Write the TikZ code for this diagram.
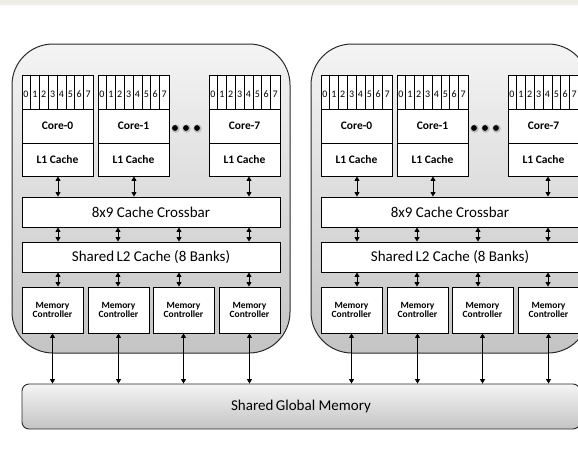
\documentclass[tikz,border=0pt]{standalone}
\usepackage{fontspec}
\setmainfont{Carlito}
\usetikzlibrary{arrows.meta,calc}
\definecolor{bandc}{HTML}{EEEDE6}
\definecolor{chiptop}{HTML}{F4F4F4}
\definecolor{chipbot}{HTML}{C4C4C4}
\definecolor{edgec}{HTML}{2A2A2A}
\tikzset{
  chipbox/.style={draw=edgec, line width=1pt, rounded corners=41pt, top color=chiptop, bottom color=chipbot, inner sep=0pt},
  wbox/.style={draw=black, line width=0.9pt, fill=white, inner sep=0pt, align=center},
  arr/.style={line width=0.8pt, {Triangle[width=5pt,length=4.5pt]}-{Triangle[width=5pt,length=4.5pt]}},
  cellt/.style={font=\fontsize{10}{11}\selectfont, inner sep=0pt},
  bigt/.style={font=\fontsize{15}{17}\selectfont},
  coret/.style={font=\fontsize{11.5}{13}\selectfont\bfseries},
  mct/.style={font=\fontsize{9.5}{11}\selectfont\bfseries}
}
\begin{document}
\begin{tikzpicture}[x=1pt,y=-1pt]
\useasboundingbox (0,0) rectangle (578,455);
\clip (0,0) rectangle (578,455);
\fill[white] (0,0) rectangle (578,455);
\fill[bandc] (0,0) rectangle (578,4.5);
% global memory
\node[draw=edgec, line width=0.9pt, rounded corners=7pt, top color=chiptop, bottom color=chipbot,
      minimum width=558pt, minimum height=45pt, inner sep=0pt, font=\fontsize{15}{17}\selectfont]
      (glob) at (301,406.5) {Shared\,Global Memory};
\foreach \p/\dx in {a/0,b/299} {
\begin{scope}[xshift=\dx pt]
  \node[chipbox, minimum width=278pt, minimum height=309pt] (\p-chip) at (151,198.5) {};
  % cores
  \foreach \i/\cx/\lab in {0/57.5/Core-0, 1/133.5/Core-1, 7/244.5/Core-7} {
    \node[wbox, minimum width=71pt, minimum height=34pt] (\p-reg\i) at (\cx,92) {};
    \foreach \k in {1,...,7} {
      \draw[line width=0.7pt] ($(\p-reg\i.north west)+(\k*8.875,0)$) -- ($(\p-reg\i.south west)+(\k*8.875,0)$);
    }
    \foreach \k in {0,...,7} {
      \node[cellt] (\p-d\i\k) at ($(\p-reg\i.west)+(\k*8.875+4.44,2)$) {\k};
    }
    \node[wbox, coret, minimum width=71pt, minimum height=34pt] (\p-core\i) at (\cx,126) {\lab};
    \node[wbox, coret, minimum width=71pt, minimum height=33pt] (\p-l1\i) at (\cx,159.5) {L1 Cache};
  }
  % dots
  \foreach \j/\xx in {1/175,2/186,3/197} {
    \fill[black, opacity=0.18] (\xx+0.6,128.6) circle (4.2pt);
    \fill[black] (\xx,128) circle (2.9pt) coordinate (\p-dot\j);
  }
  \node[wbox, bigt, minimum width=258pt, minimum height=30pt] (\p-xbar) at (151,212) {8x9 Cache Crossbar};
  \node[wbox, bigt, minimum width=258pt, minimum height=30pt] (\p-l2) at (151,257) {Shared\,L2 Cache (8 Banks)};
  \foreach \m/\mx in {1/52.5,2/118.5,3/183.5,4/249.5} {
    \node[wbox, mct, minimum width=61pt, minimum height=46pt] (\p-mc\m) at (\mx,310) {Memory\\[-1.5pt]Controller};
    \draw[arr] (\p-mc\m.south) -- (\p-mc\m.south |- glob.north);
  }
  % arrows L1 -> crossbar
  \draw[arr] (\p-l10.south -| 58,0) -- (\p-xbar.north -| 58,0);
  \draw[arr] (\p-l11.south -| 134,0) -- (\p-xbar.north -| 134,0);
  \draw[arr] (\p-l17.south -| 249,0) -- (\p-xbar.north -| 249,0);
  % crossbar -> L2 -> MC
  \draw[arr] (\p-xbar.south -| 58,0) -- (\p-l2.north -| 58,0);
  \draw[arr] (\p-xbar.south -| 118,0) -- (\p-l2.north -| 118,0);
  \draw[arr] (\p-xbar.south -| 179,0) -- (\p-l2.north -| 179,0);
  \draw[arr] (\p-xbar.south -| 249,0) -- (\p-l2.north -| 249,0);
  \draw[arr] (\p-l2.south -| 58,0) -- (\p-mc1.north -| 58,0);
  \draw[arr] (\p-l2.south -| 118,0) -- (\p-mc2.north -| 118,0);
  \draw[arr] (\p-l2.south -| 179,0) -- (\p-mc3.north -| 179,0);
  \draw[arr] (\p-l2.south -| 249,0) -- (\p-mc4.north -| 249,0);
\end{scope}
}
\end{tikzpicture}
\end{document}
